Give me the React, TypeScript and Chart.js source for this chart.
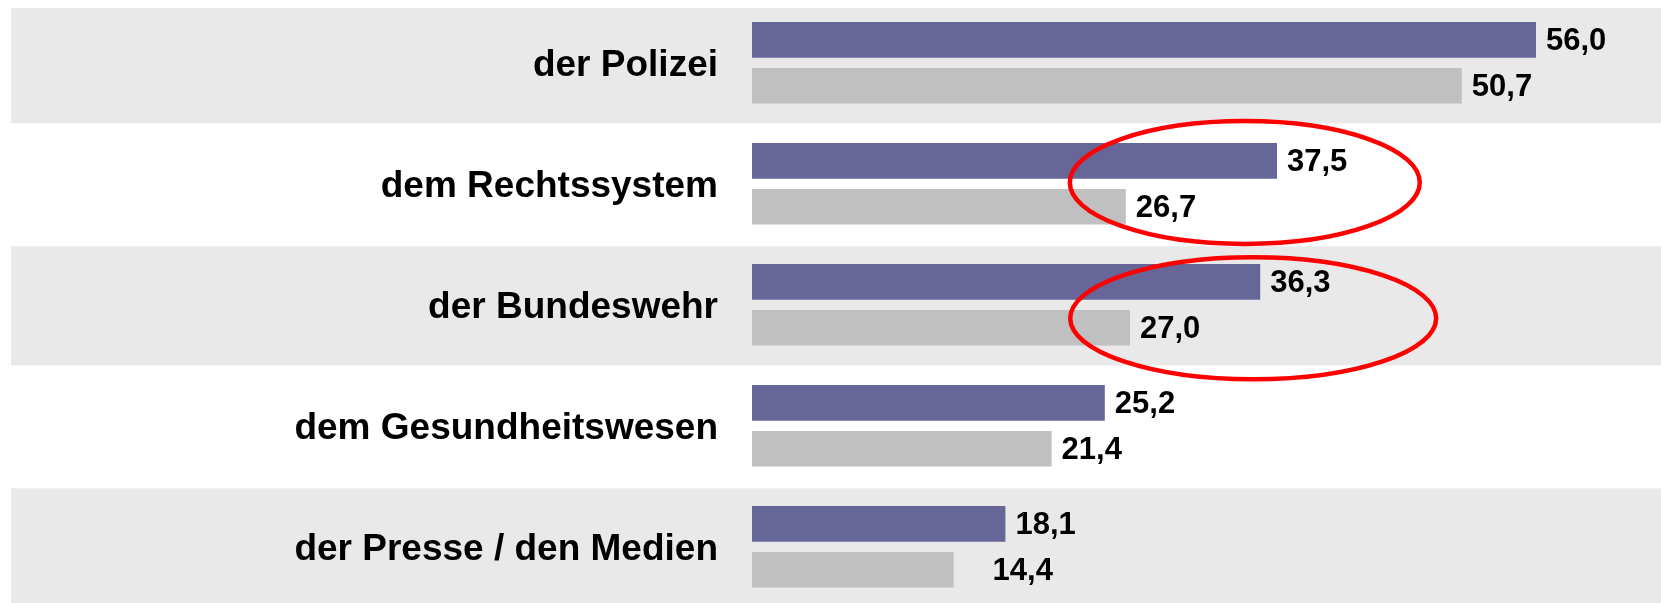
import React, { useEffect, useRef } from "react";
import { Chart, registerables } from "chart.js";

Chart.register(...registerables);

const categories = [
  "der Polizei",
  "dem Rechtssystem",
  "der Bundeswehr",
  "dem Gesundheitswesen",
  "der Presse / den Medien",
];
const seriesCurrent = [56.0, 37.5, 36.3, 25.2, 18.1];
const seriesPrevious = [50.7, 26.7, 27.0, 21.4, 14.4];
const seriesNames = ["aktuell", "vorher"];

const W = 1661;
const H = 603;
const FONT = "'Liberation Sans', Arial, sans-serif";

// annotation ellipses (value units on x, category index on y)
const highlightEllipses = [
  { category: 1, value: 35.2, rxValue: 12.5, ry: 61.5, dy: -1.3 },
  { category: 2, value: 35.8, rxValue: 13.07, ry: 61, dy: 13.5 },
];

const bandPlugin = {
  id: "bands",
  beforeDraw(chart: any) {
    const { ctx } = chart;
    const y = chart.scales.y;
    const n = categories.length;
    const step = (y.getPixelForValue(n - 1) - y.getPixelForValue(0)) / (n - 1);
    ctx.save();
    ctx.fillStyle = "#e9e9e9";
    for (let i = 0; i < n; i += 2) {
      const c = y.getPixelForValue(i);
      const top = Math.max(c - step / 2 + (i > 0 ? 2 : 0), 8);
      const bottom = Math.min(c + step / 2, chart.height);
      ctx.fillRect(11, top, chart.width - 11, bottom - top);
    }
    ctx.restore();
  },
};

const labelPlugin = {
  id: "valueLabels",
  afterDatasetsDraw(chart: any) {
    const { ctx } = chart;
    ctx.save();
    ctx.font = `bold 31px ${FONT}`;
    ctx.fillStyle = "#000";
    ctx.textAlign = "left";
    ctx.textBaseline = "middle";
    chart.data.datasets.forEach((ds: any, di: number) => {
      const meta = chart.getDatasetMeta(di);
      meta.data.forEach((bar: any, i: number) => {
        const v = ds.data[i] as number;
        const extra = di === 1 && i === 4 ? 29 : 0;
        ctx.fillText(v.toFixed(1).replace(".", ","), bar.x + 10 + extra, bar.y + 1.5);
      });
    });
    ctx.restore();
  },
};

const ellipsePlugin = {
  id: "ellipses",
  afterDraw(chart: any) {
    const { ctx } = chart;
    const x = chart.scales.x;
    const y = chart.scales.y;
    ctx.save();
    ctx.strokeStyle = "#ff0000";
    ctx.lineWidth = 4.5;
    highlightEllipses.forEach((e) => {
      const cx = x.getPixelForValue(e.value);
      const rx = x.getPixelForValue(e.value + e.rxValue) - cx;
      const cy = y.getPixelForValue(e.category) + e.dy;
      ctx.beginPath();
      ctx.ellipse(cx, cy, rx, e.ry, 0, 0, Math.PI * 2);
      ctx.stroke();
    });
    ctx.restore();
  },
};

export default function App() {
  const ref = useRef<HTMLCanvasElement>(null);
  useEffect(() => {
    if (!ref.current) return;
    const chart = new Chart(ref.current, {
      type: "bar",
      data: {
        labels: categories,
        datasets: [
          {
            label: seriesNames[0],
            data: seriesCurrent,
            backgroundColor: "#666699",
            clip: false as any,
            categoryPercentage: 0.7575,
            barPercentage: 0.776,
          },
          {
            label: seriesNames[1],
            data: seriesPrevious,
            backgroundColor: "#c0c0c0",
            clip: false as any,
            categoryPercentage: 0.7575,
            barPercentage: 0.776,
          },
        ],
      },
      options: {
        indexAxis: "y",
        animation: false,
        responsive: false,
        devicePixelRatio: 1,
        layout: { padding: { left: 0, right: 69, top: 62.8, bottom: 54.2 } },
        plugins: {
          legend: { display: false },
          tooltip: { enabled: false },
        },
        scales: {
          x: {
            display: false,
            min: 0,
            max: 60,
          },
          y: {
            offset: false,
            grid: { display: false, drawTicks: false },
            border: { display: false },
            ticks: {
              color: "#000",
              padding: 34,
              labelOffset: 2.5,
              font: { family: FONT, size: 37, weight: "bold" },
            },
            afterFit(scale: any) {
              scale.width = 752;
            },
          },
        },
      },
      plugins: [bandPlugin, labelPlugin, ellipsePlugin],
    });
    return () => chart.destroy();
  }, []);
  return (
    <div style={{ position: "fixed", left: 0, top: 0, width: W, height: H, background: "#fff" }}>
      <canvas ref={ref} width={W} height={H} style={{ display: "block", width: W, height: H }} />
    </div>
  );
}
